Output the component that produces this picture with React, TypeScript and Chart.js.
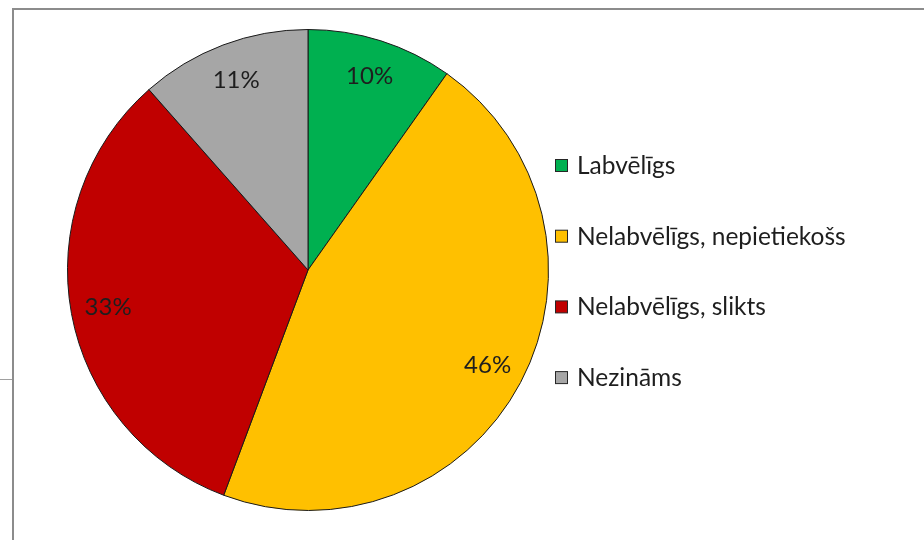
import React, { useEffect, useRef } from "react";
import { Chart, registerables } from "chart.js";

Chart.register(...registerables);

const categories = ["Labvēlīgs", "Nelabvēlīgs, nepietiekošs", "Nelabvēlīgs, slikts", "Nezināms"];
const values = [9.8, 45.9, 32.8, 11.5];
const percentLabels = ["10%", "46%", "33%", "11%"];
const colors = ["#00b050", "#ffc000", "#c00000", "#a6a6a6"];

const FONT = "Lato, 'Liberation Sans', sans-serif";

const labelPlugin = {
  id: "sliceLabels",
  afterDatasetsDraw(chart: any) {
    const ctx = chart.ctx;
    const meta = chart.getDatasetMeta(0);
    ctx.save();
    ctx.font = `24px ${FONT}`;
    ctx.fillStyle = "#1e1e1e";
    ctx.textAlign = "center";
    ctx.textBaseline = "middle";
    meta.data.forEach((arc: any, i: number) => {
      const p = arc.getProps(["x", "y", "startAngle", "endAngle", "outerRadius"], true);
      const mid = (p.startAngle + p.endAngle) / 2;
      const r = p.outerRadius * 0.845;
      ctx.fillText(percentLabels[i], p.x + Math.cos(mid) * r, p.y + Math.sin(mid) * r);
    });
    ctx.restore();
  },
};

const legendPlugin = {
  id: "customLegend",
  afterDraw(chart: any) {
    const ctx = chart.ctx;
    ctx.save();
    ctx.font = `24.5px ${FONT}`;
    ctx.textAlign = "left";
    ctx.textBaseline = "middle";
    const labels = chart.data.labels as string[];
    labels.forEach((lab, i) => {
      const y = 166 + i * 70.7;
      ctx.fillStyle = colors[i];
      ctx.fillRect(555.5, y - 6.5, 12, 12);
      ctx.strokeStyle = "#262626";
      ctx.lineWidth = 1;
      ctx.strokeRect(555.5, y - 6.5, 12, 12);
      ctx.fillStyle = "#1e1e1e";
      ctx.fillText(lab, 577, y);
    });
    ctx.restore();
  },
};

export default function App() {
  const ref = useRef<HTMLCanvasElement>(null);
  useEffect(() => {
    if (!ref.current) return;
    const chart = new Chart(ref.current, {
      type: "pie",
      data: {
        labels: categories,
        datasets: [
          {
            data: values,
            backgroundColor: colors,
            borderColor: "#1a1a1a",
            borderWidth: 1,
          },
        ],
      },
      options: {
        animation: false,
        responsive: false,
        layout: { padding: { left: 67, right: 375, top: 29, bottom: 29 } },
        plugins: { legend: { display: false }, tooltip: { enabled: false } },
      },
      plugins: [labelPlugin, legendPlugin],
    });
    return () => chart.destroy();
  }, []);
  return (
    <div style={{ position: "fixed", left: 0, top: 0, width: 924, height: 540, background: "#fff", overflow: "hidden" }}>
      <div style={{ position: "absolute", left: 12, top: 8, right: 0, bottom: 0, borderLeft: "2px solid #8c8c8c", borderTop: "2px solid #8c8c8c" }} />
      <div style={{ position: "absolute", left: 0, top: 379, width: 12, height: 1, background: "#a0a0a0" }} />
      <canvas ref={ref} width={924} height={540} style={{ position: "absolute", left: 0, top: 0 }} />
    </div>
  );
}
